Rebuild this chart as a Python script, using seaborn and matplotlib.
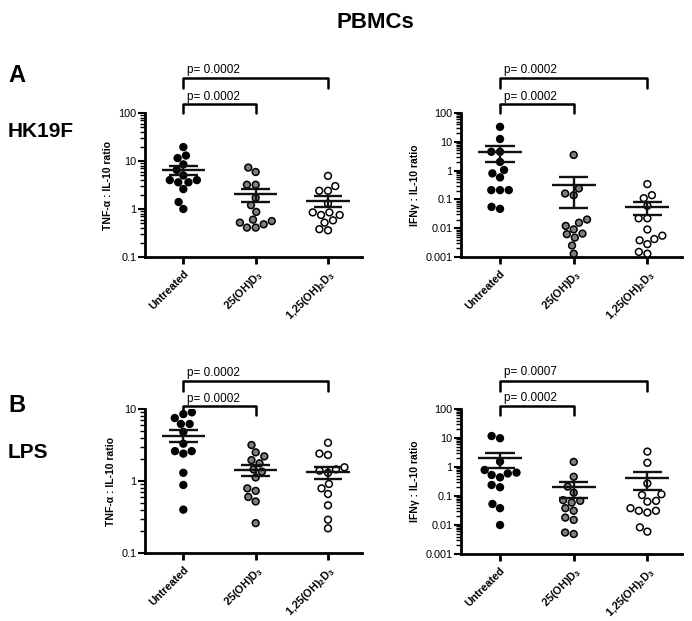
import numpy as np
import pandas as pd
import matplotlib
matplotlib.use("Agg")
import matplotlib.pyplot as plt
import seaborn as sns
from matplotlib.ticker import LogLocator, FuncFormatter, NullFormatter

# ---------------- data ----------------
categories = ["Untreated", "25(OH)D3", "1,25(OH)2D3"]
tick_labels = ["Untreated", "25(OH)D$_3$", "1,25(OH)$_2$D$_3$"]

# A: HK19F  TNF-a : IL-10
tnf_hk_untreated = [19.5, 11.5, 13.0, 8.5, 6.5, 5.0, 4.0, 3.6, 4.0, 3.6, 2.6, 1.4, 1.0]
tnf_hk_25 = [7.3, 5.9, 3.2, 3.2, 1.7, 1.2, 0.87, 0.56, 0.48, 0.41, 0.41, 0.52, 0.60]
tnf_hk_125 = [4.9, 3.0, 2.4, 2.4, 1.3, 0.75, 0.85, 0.85, 0.75, 0.52, 0.58, 0.36, 0.38]
# A: HK19F  IFNg : IL-10
ifn_hk_untreated = [33.0, 12.5, 4.5, 4.5, 2.0, 1.05, 0.80, 0.58, 0.21, 0.21, 0.21, 0.047, 0.055]
ifn_hk_25 = [3.5, 0.16, 0.14, 0.24, 0.020, 0.012, 0.0155, 0.0091, 0.0062, 0.0047, 0.0065, 0.0025, 0.0013]
ifn_hk_125 = [0.34, 0.14, 0.11, 0.06, 0.022, 0.022, 0.009, 0.0055, 0.0038, 0.0028, 0.0042, 0.0013, 0.0015]
# B: LPS  TNF-a : IL-10
tnf_lps_untreated = [9.0, 8.5, 7.5, 6.2, 6.2, 4.8, 3.3, 2.6, 2.4, 2.6, 1.3, 0.88, 0.40]
tnf_lps_25 = [3.16, 2.2, 2.5, 1.95, 1.76, 1.35, 1.45, 1.12, 0.73, 0.79, 0.60, 0.52, 0.26]
tnf_lps_125 = [3.4, 2.4, 2.3, 1.45, 1.3, 1.39, 1.55, 0.91, 0.79, 0.66, 0.46, 0.29, 0.22]
# B: LPS  IFNg : IL-10
ifn_lps_untreated = [11.7, 9.8, 1.53, 0.64, 0.53, 0.44, 0.60, 0.79, 0.20, 0.24, 0.053, 0.038, 0.010]
ifn_lps_25 = [1.5, 0.46, 0.21, 0.13, 0.072, 0.059, 0.068, 0.038, 0.031, 0.018, 0.015, 0.0049, 0.0055]
ifn_lps_125 = [3.4, 1.4, 0.27, 0.108, 0.115, 0.064, 0.068, 0.038, 0.031, 0.027, 0.031, 0.0083, 0.0059]

p_tnf_hk = ["p= 0.0002", "p= 0.0002"]     # (top: Untreated vs 1,25 ; lower: Untreated vs 25)
p_ifn_hk = ["p= 0.0002", "p= 0.0002"]
p_tnf_lps = ["p= 0.0002", "p= 0.0002"]
p_ifn_lps = ["p= 0.0007", "p= 0.0002"]

# ---------------- style ----------------
sns.set_theme(style="ticks")
plt.rcParams["font.family"] = ["Liberation Sans", "DejaVu Sans"]
plt.rcParams["mathtext.default"] = "regular"
for k in ["text.color", "axes.labelcolor", "xtick.color", "ytick.color", "axes.edgecolor"]:
    plt.rcParams[k] = "black"

fig = plt.figure(figsize=(6.92, 6.21), dpi=100)
W, H = 692.0, 621.0

palette = {"Untreated": "black", "25(OH)D3": "#7f7f7f", "1,25(OH)2D3": "white"}


def make_df(a, b, c):
    return pd.DataFrame({
        "group": [categories[0]] * len(a) + [categories[1]] * len(b) + [categories[2]] * len(c),
        "value": list(a) + list(b) + list(c),
    })


def panel(rect_px, groups, ylim, ylabel, pvals, br):
    x0, x1, ytop, ybot = rect_px
    ax = fig.add_axes([x0 / W, 1 - ybot / H, (x1 - x0) / W, (ybot - ytop) / H])
    df = make_df(*groups)
    sns.swarmplot(data=df, x="group", y="value", hue="group", order=categories,
                  hue_order=categories, palette=palette, size=4.9, linewidth=1.1,
                  edgecolor="black", legend=False, log_scale=True, ax=ax, zorder=3)
    # mean +- SEM
    for i, g in enumerate(groups):
        v = np.asarray(g, float)
        m = v.mean()
        s = v.std(ddof=1) / np.sqrt(len(v))
        ax.hlines(m, i - 0.30, i + 0.30, color="#111111", lw=1.7, zorder=5)
        ax.vlines(i, m - s, m + s, color="#111111", lw=1.7, zorder=5)
        ax.hlines([m - s, m + s], i - 0.2, i + 0.2, color="#111111", lw=1.7, zorder=5)
    ax.set_yscale("log")
    ax.set_ylim(*ylim)
    ax.set_xlim(-0.53, 2.47)
    ax.yaxis.set_major_locator(LogLocator(base=10, numticks=20))
    ax.yaxis.set_minor_locator(LogLocator(base=10, subs=np.arange(2, 10), numticks=100))
    ax.yaxis.set_minor_formatter(NullFormatter())
    ax.yaxis.set_major_formatter(FuncFormatter(lambda v, p: "%g" % v))
    ax.set_xticks(range(3))
    ax.set_xticklabels(tick_labels, rotation=45, ha="right", rotation_mode="anchor",
                       fontsize=7.8, fontweight="bold")
    ax.set_xlabel("")
    ax.set_ylabel(ylabel, fontsize=7.5, fontweight="bold", labelpad=4)
    for sp in ["top", "right"]:
        ax.spines[sp].set_visible(False)
    for sp in ["left", "bottom"]:
        ax.spines[sp].set_linewidth(2.0)
        ax.spines[sp].set_color("black")
    ax.tick_params(axis="y", which="major", length=5, width=1.5, labelsize=7.8, pad=1, color="black")
    ax.tick_params(axis="y", which="minor", length=3.5, width=1.0, color="black")
    ax.tick_params(axis="x", which="major", length=5, width=2.0, pad=3, color="black")
    # significance brackets
    tr = ax.get_xaxis_transform()
    (y1, d1, t1), (y2, d2, t2) = br
    ax.plot([0, 0, 2, 2], [d1, y1, y1, d1], transform=tr, clip_on=False, color="black", lw=1.8)
    ax.text(0.05, t1, pvals[0], transform=tr, fontsize=8.5, ha="left", va="baseline")
    ax.plot([0, 0, 1, 1], [d2, y2, y2, d2], transform=tr, clip_on=False, color="black", lw=1.8)
    ax.text(0.05, t2, pvals[1], transform=tr, fontsize=8.5, ha="left", va="baseline")
    return ax


brA = [(1.243, 1.174, 1.278), (1.0625, 1.0, 1.09)]
brB = [(1.194, 1.125, 1.232), (1.021, 0.958, 1.052)]

panel((145, 362, 113, 257), [tnf_hk_untreated, tnf_hk_25, tnf_hk_125], (0.1, 100),
      "TNF-\u03b1 : IL-10 ratio", p_tnf_hk, brA)
panel((461, 682, 113, 257), [ifn_hk_untreated, ifn_hk_25, ifn_hk_125], (0.001, 100),
      "IFN\u03b3 : IL-10 ratio", p_ifn_hk, brA)
panel((145, 362, 409, 553), [tnf_lps_untreated, tnf_lps_25, tnf_lps_125], (0.1, 10),
      "TNF-\u03b1 : IL-10 ratio", p_tnf_lps, brB)
panel((461, 682, 409, 554), [ifn_lps_untreated, ifn_lps_25, ifn_lps_125], (0.001, 100),
      "IFN\u03b3 : IL-10 ratio", p_ifn_lps, brB)

fig.text(375 / W, 1 - 22 / H, "PBMCs", fontsize=16, fontweight="bold", ha="center", va="center")
fig.text(8 / W, 1 - 76 / H, "A", fontsize=17, fontweight="bold", ha="left", va="center")
fig.text(8 / W, 1 - 131 / H, "HK19F", fontsize=15, fontweight="bold", ha="left", va="center")
fig.text(8 / W, 1 - 406 / H, "B", fontsize=17, fontweight="bold", ha="left", va="center")
fig.text(8 / W, 1 - 452 / H, "LPS", fontsize=15, fontweight="bold", ha="left", va="center")

fig.savefig("out.png", dpi=100)
